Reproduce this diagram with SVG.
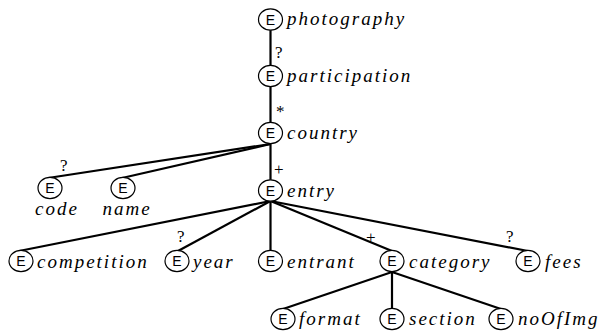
<svg xmlns="http://www.w3.org/2000/svg" width="603" height="334" viewBox="0 0 603 334">
<style>
.c{fill:#fff;stroke:#000;stroke-width:1.2}
.e{font-family:'Liberation Sans',Arial,Helvetica,sans-serif;font-size:14px;text-anchor:middle}
.t{font-family:'Liberation Serif','Times New Roman',Times,serif;font-style:italic;font-size:19px;letter-spacing:2px}
.m{font-family:'Liberation Serif','Times New Roman',Times,serif;font-size:17px}
#edges line{stroke:#000;stroke-width:2.2}
</style>
<rect width="603" height="334" fill="#fff"/>
<g id="edges">
<line x1="270.5" y1="30" x2="270.5" y2="65"/>
<line x1="270.5" y1="87" x2="270.5" y2="122"/>
<line x1="270.5" y1="144" x2="270.5" y2="180"/>
<line x1="270.5" y1="144" x2="48" y2="178"/>
<line x1="270.5" y1="144" x2="122" y2="178"/>
<line x1="270.5" y1="201" x2="19" y2="251"/>
<line x1="270.5" y1="201" x2="178" y2="251"/>
<line x1="270.5" y1="201" x2="270.5" y2="251"/>
<line x1="270.5" y1="201" x2="392" y2="251"/>
<line x1="270.5" y1="201" x2="528" y2="251"/>
<line x1="392" y1="272" x2="283" y2="309"/>
<line x1="392" y1="272" x2="392" y2="309"/>
<line x1="392" y1="272" x2="501" y2="309"/>
<text class="m" x="275" y="58">?</text>
<text class="m" x="276" y="117">*</text>
<text class="m" x="274" y="175">+</text>
<text class="m" x="60" y="171">?</text>
<text class="m" x="177" y="242">?</text>
<text class="m" x="366" y="243">+</text>
<text class="m" x="506" y="242">?</text>
</g>
<g id="photography"><ellipse class="c" cx="270.5" cy="19.5" rx="12" ry="10.7"/><text class="e" x="270.5" y="24.5">E</text><text class="t" x="287" y="25">photography</text></g>
<g id="participation"><ellipse class="c" cx="270.5" cy="76" rx="12" ry="10.7"/><text class="e" x="270.5" y="81">E</text><text class="t" x="287" y="82">participation</text></g>
<g id="country"><ellipse class="c" cx="270.5" cy="133" rx="12" ry="10.7"/><text class="e" x="270.5" y="138">E</text><text class="t" x="287" y="139">country</text></g>
<g id="entry"><ellipse class="c" cx="270.5" cy="190.5" rx="12" ry="10.7"/><text class="e" x="270.5" y="195.5">E</text><text class="t" x="287" y="197">entry</text></g>
<g id="code"><ellipse class="c" cx="50" cy="188" rx="12" ry="10.7"/><text class="e" x="50" y="193">E</text><text class="t" x="57" y="215" text-anchor="middle">code</text></g>
<g id="name"><ellipse class="c" cx="123" cy="188" rx="12" ry="10.7"/><text class="e" x="123" y="193">E</text><text class="t" x="127" y="215" text-anchor="middle">name</text></g>
<g id="competition"><ellipse class="c" cx="21" cy="261" rx="12" ry="10.7"/><text class="e" x="21" y="266">E</text><text class="t" x="37" y="268">competition</text></g>
<g id="year"><ellipse class="c" cx="177" cy="261" rx="12" ry="10.7"/><text class="e" x="177" y="266">E</text><text class="t" x="193" y="268">year</text></g>
<g id="entrant"><ellipse class="c" cx="270.5" cy="261" rx="12" ry="10.7"/><text class="e" x="270.5" y="266">E</text><text class="t" x="287" y="268">entrant</text></g>
<g id="category"><ellipse class="c" cx="392" cy="261" rx="12" ry="10.7"/><text class="e" x="392" y="266">E</text><text class="t" x="409" y="268">category</text></g>
<g id="fees"><ellipse class="c" cx="528" cy="261" rx="12" ry="10.7"/><text class="e" x="528" y="266">E</text><text class="t" x="545" y="268">fees</text></g>
<g id="format"><ellipse class="c" cx="283" cy="319" rx="12" ry="10.7"/><text class="e" x="283" y="324">E</text><text class="t" x="299" y="325">format</text></g>
<g id="section"><ellipse class="c" cx="392" cy="319" rx="12" ry="10.7"/><text class="e" x="392" y="324">E</text><text class="t" x="409" y="325">section</text></g>
<g id="noOfImg"><ellipse class="c" cx="501" cy="319" rx="12" ry="10.7"/><text class="e" x="501" y="324">E</text><text class="t" x="518" y="325">noOfImg</text></g>
</svg>
